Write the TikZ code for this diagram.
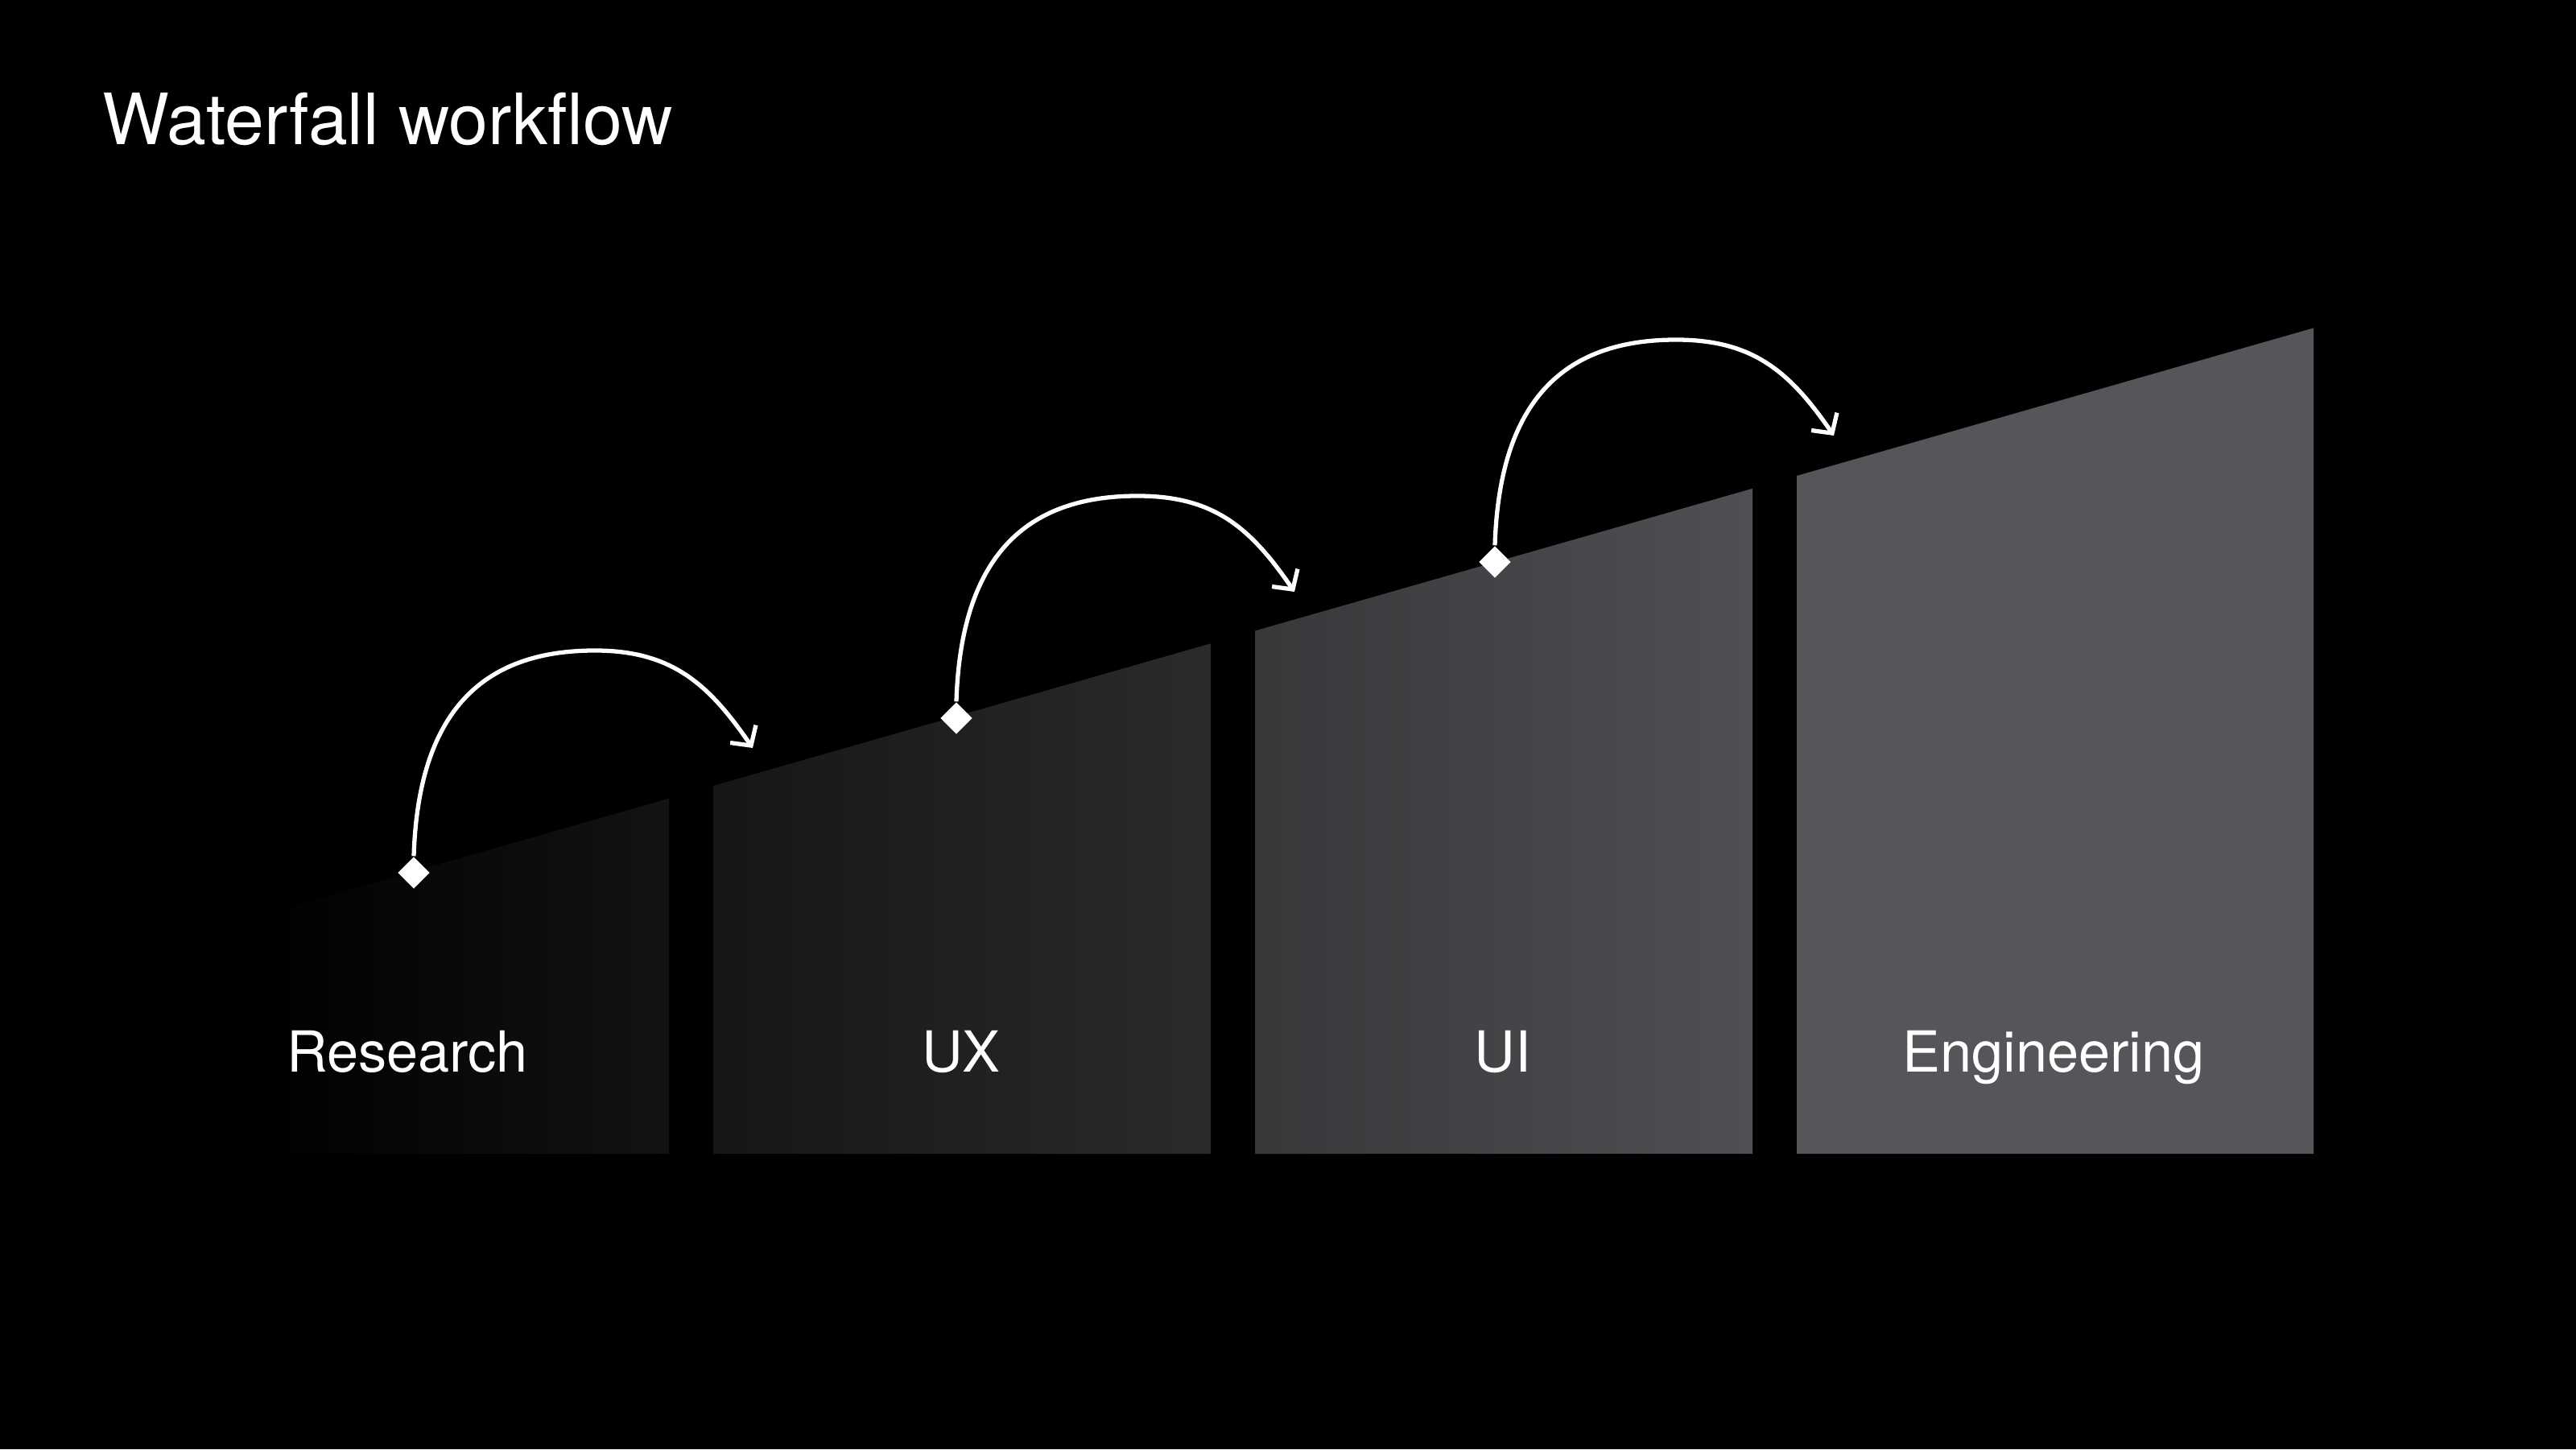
\documentclass[tikz,border=0pt]{standalone}
\usepackage{fontspec}
\setmainfont{TeX Gyre Heros}
\usepackage{tikz}
\usetikzlibrary{shapes.geometric,arrows.meta}
\definecolor{resR}{HTML}{131313}
\definecolor{uxL}{HTML}{161616}
\definecolor{uxR}{HTML}{2B2B2E}
\definecolor{uiL}{HTML}{38383B}
\definecolor{uiR}{HTML}{505054}
\definecolor{eng}{HTML}{56555A}

\begin{document}
\begin{tikzpicture}[stage/.style={inner sep=0pt,anchor=base,text=white,font=\fontsize{20}{24}\selectfont},
handoff/.style={diamond,fill=white,inner sep=0pt,minimum size=0.4cm},
flow/.style={white,line width=1.5pt,-{Straight Barb[length=5pt,width=11pt]}}]
\fill[black] (0,0) rectangle (32,18);
\node[inner sep=0pt,anchor=base west,text=white,font=\fontsize{25}{30}\selectfont] (title) at (1.27,16.2) {Waterfall workflow};
% phases
\shade[left color=black,right color=resR] (3.2,3.67) -- (3.2,6.621) -- (8.31,8.083) -- (8.31,3.67) -- cycle;
\shade[left color=uxL,right color=uxR] (8.86,3.67) -- (8.86,8.24) -- (15.04,10.007) -- (15.04,3.67) -- cycle;
\shade[left color=uiL,right color=uiR] (15.59,3.67) -- (15.59,10.165) -- (21.77,11.932) -- (21.77,3.67) -- cycle;
\fill[eng] (22.32,3.67) -- (22.32,12.09) -- (28.74,13.926) -- (28.74,3.67) -- cycle;
\node[stage] (research) at (5.06,4.69) {Research};
\node[stage] (ux) at (11.94,4.69) {UX};
\node[stage] (ui) at (18.67,4.69) {UI};
\node[stage] (engineering) at (25.51,4.69) {Engineering};
% hand-offs
\node[handoff] (dR) at (5.14,7.16) {};
\node[handoff] (dX) at (11.88,9.08) {};
\node[handoff] (dI) at (18.57,11.02) {};
\coordinate (pR) at (7.39,9.92);
\coordinate (pX) at (14.13,11.84);
\coordinate (pI) at (20.82,13.78);
\coordinate (tR) at (9.35,8.71);
\coordinate (tX) at (16.08,10.65);
\coordinate (tI) at (22.78,12.59);
\draw[flow] (dR.north) .. controls +(0.06,1.9) and +(-1.3,0) .. (pR) .. controls +(0.95,0) and +(-0.55,0.8) .. (tR);
\draw[flow] (dX.north) .. controls +(0.06,1.9) and +(-1.3,0) .. (pX) .. controls +(0.95,0) and +(-0.55,0.8) .. (tX);
\draw[flow] (dI.north) .. controls +(0.06,1.9) and +(-1.3,0) .. (pI) .. controls +(0.95,0) and +(-0.55,0.8) .. (tI);
\end{tikzpicture}
\end{document}
